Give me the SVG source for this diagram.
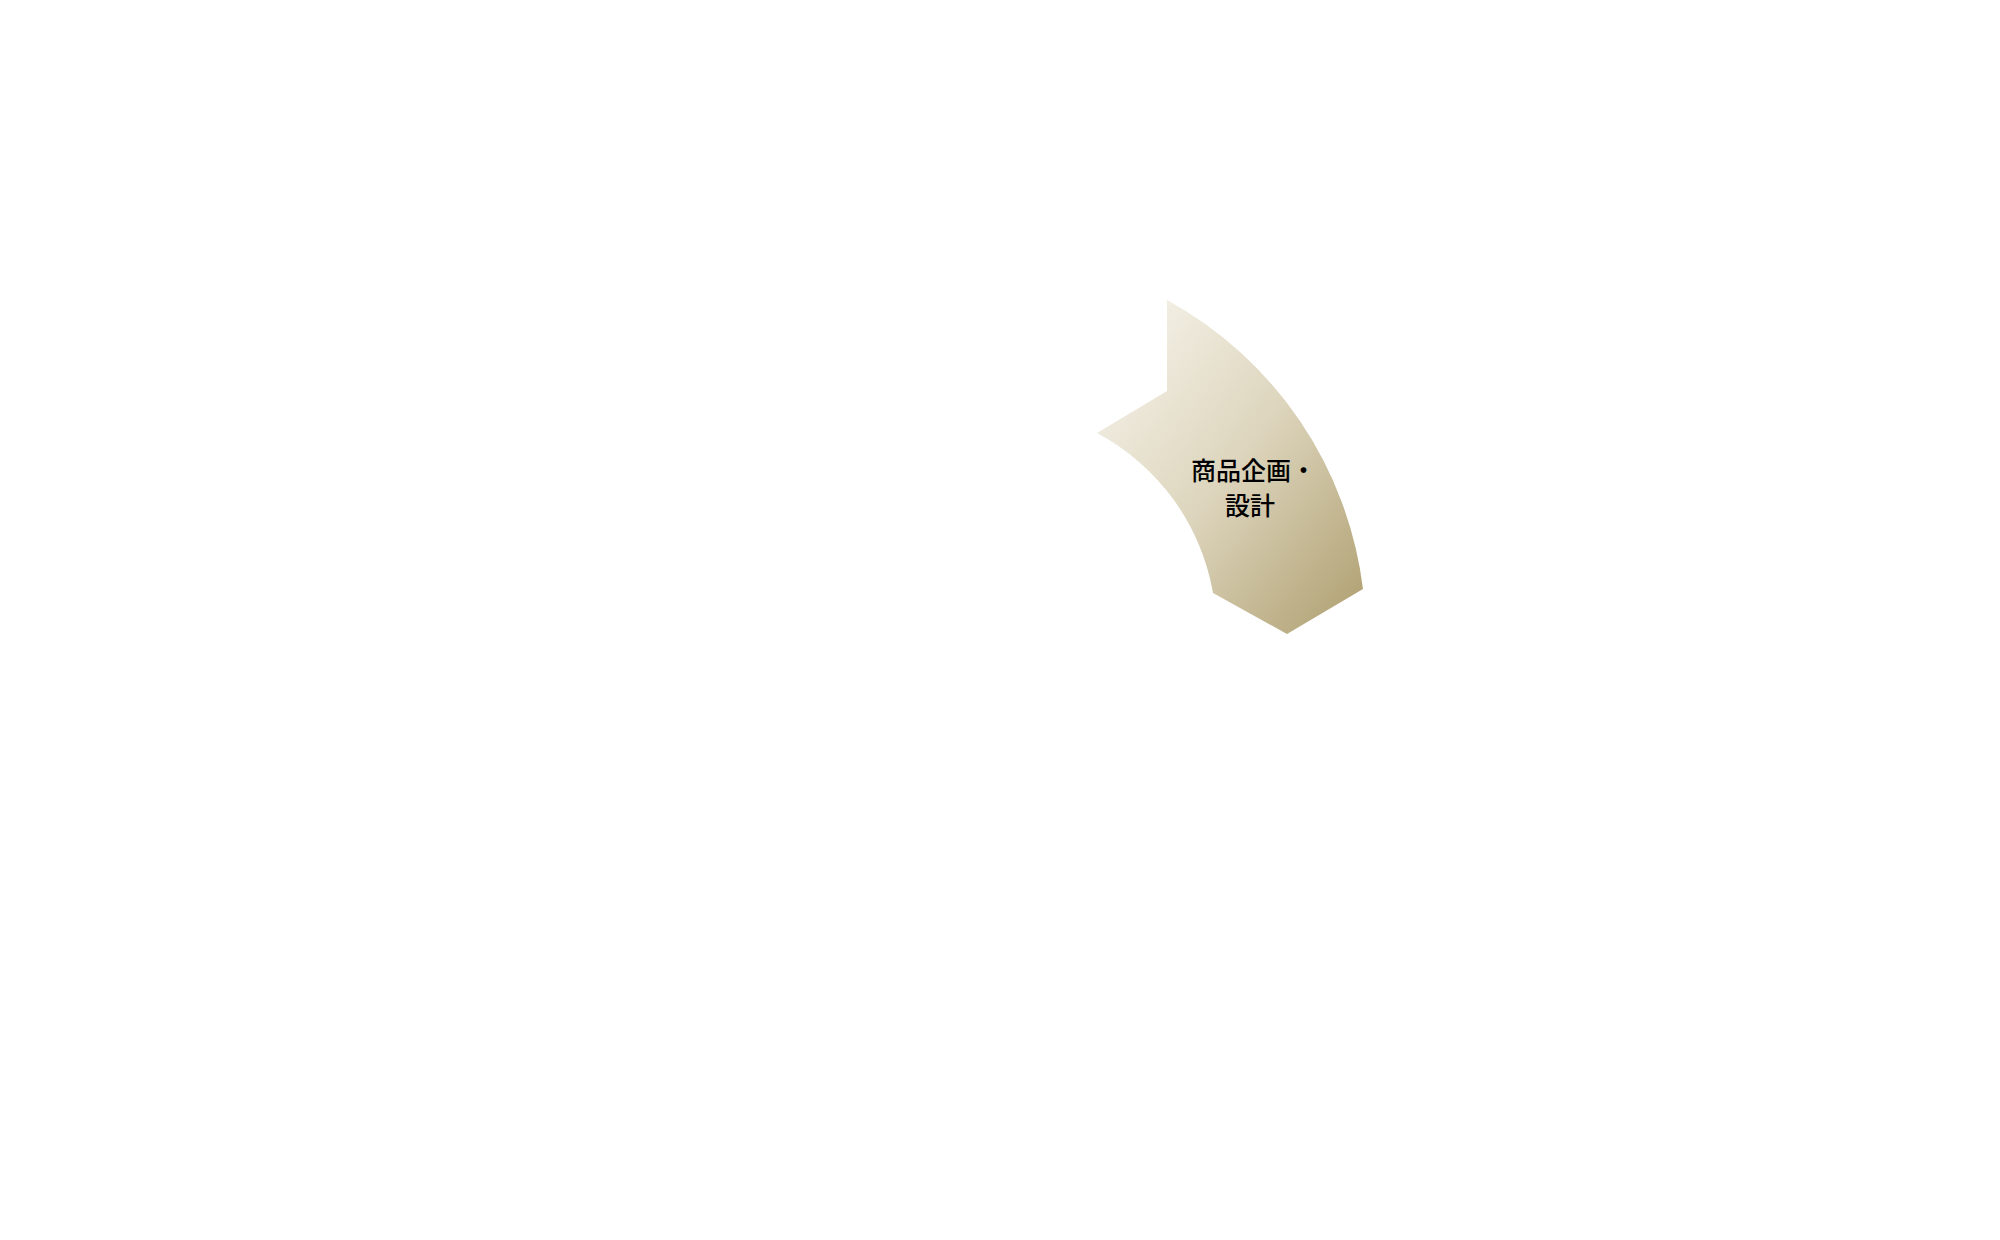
<svg xmlns="http://www.w3.org/2000/svg" width="2000" height="1240" viewBox="0 0 2000 1240">
  <style>
    .label { font-family: "Noto Sans CJK JP", "Noto Sans CJK SC", sans-serif; font-size: 25px; font-weight: 500; fill: #000000; }
  </style>
  <defs>
    <linearGradient id="goldGrad" x1="0" y1="0" x2="1" y2="1">
      <stop offset="0" stop-color="#f9f7f0"/>
      <stop offset="0.5" stop-color="#ddd5bd"/>
      <stop offset="1" stop-color="#ae9e6e"/>
    </linearGradient>
  </defs>
  <rect x="0" y="0" width="2000" height="1240" fill="#ffffff"/>
  <g id="node-shohin-kikaku">
    <path d="M 1167 300 A 383 383 0 0 1 1363 589 L 1287 634 L 1213 593 A 225 225 0 0 0 1097 433 L 1167 391 Z" fill="url(#goldGrad)"/>
    <text class="label" x="1191" y="480">商品企画・</text>
    <text class="label" x="1250" y="515" text-anchor="middle">設計</text>
  </g>
  <g id="connectors"></g>
</svg>
